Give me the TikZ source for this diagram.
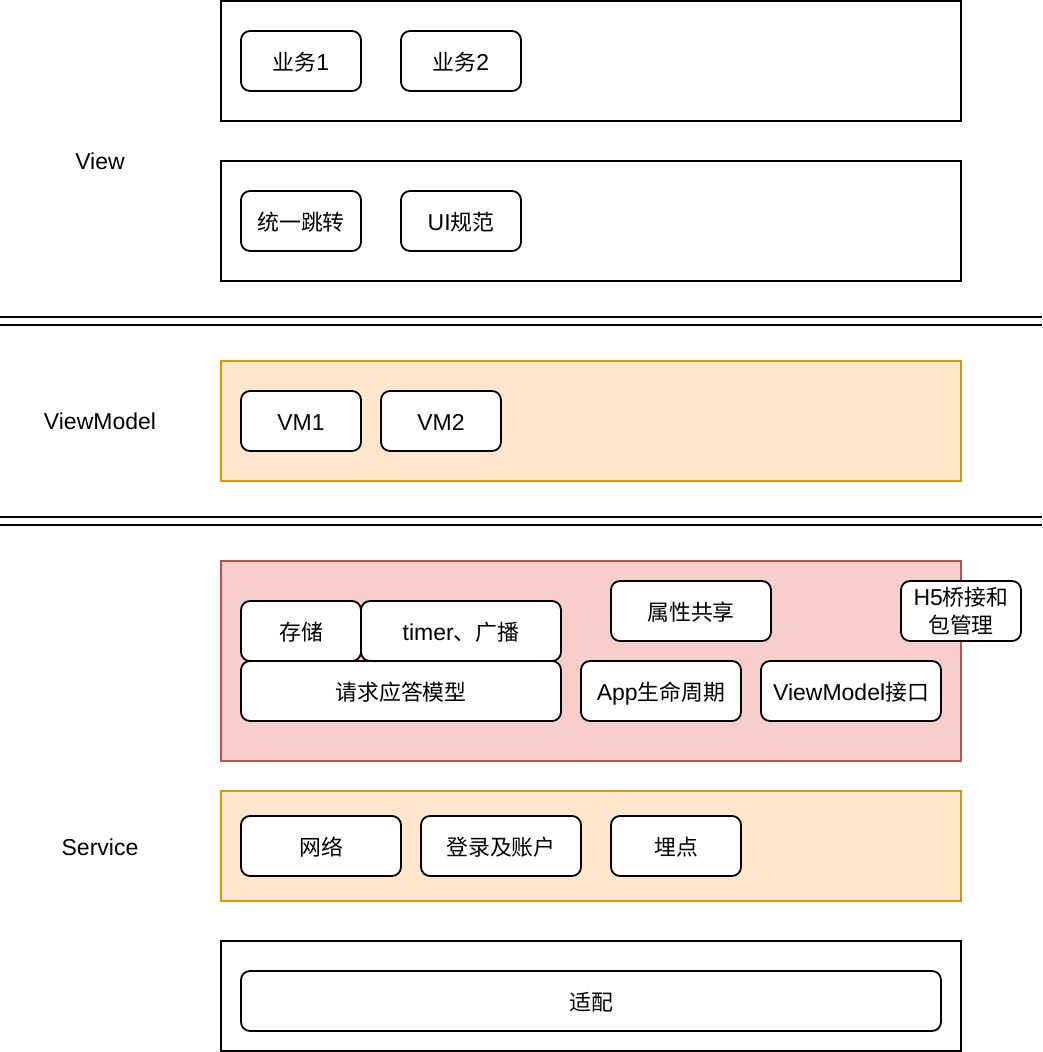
\documentclass[tikz,border=0pt]{standalone}
\usepackage{fontspec}
\setmainfont{Liberation Sans}
\newfontfamily\cjk[Scale=0.95]{Noto Sans CJK SC}
\usepackage{xcolor}
\usepackage{tikz}
\usetikzlibrary{positioning,calc}

\definecolor{vmfill}{HTML}{FFE6CC}
\definecolor{vmline}{HTML}{D79B00}
\definecolor{corefill}{HTML}{F8CECC}
\definecolor{coreline}{HTML}{B85450}

\begin{document}
\begin{tikzpicture}[x=1pt, y=-1pt, font=\fontsize{23}{28}\selectfont,
    layer/.style={draw, line width=2pt, minimum width=740pt, inner sep=0pt},
    item/.style={draw, fill=white, line width=1.8pt, rounded corners=9pt, minimum height=60pt, inner sep=0pt, text depth=0pt, text height=18pt},
    sep/.style={double, double distance=6pt, line width=2pt}]
    \useasboundingbox (0,0) rectangle (1042,1052);

    % View
    \node[layer, minimum height=120pt] (viewtop) at (591,61) {};
    \node[item, minimum width=120pt] (biz1) at (301,61) {{\cjk 业务}1};
    \node[item, minimum width=120pt] (biz2) at (461,61) {{\cjk 业务}2};
    \node[layer, minimum height=120pt] (viewbot) at (591,221) {};
    \node[item, minimum width=120pt] (jump) at (301,221) {\cjk 统一跳转};
    \node[item, minimum width=120pt] (uispec) at (461,221) {UI{\cjk 规范}};
    \node (viewlbl) at (100,161) {View};

    % separators
    \coordinate (s1l) at (0,321);
    \coordinate (s1r) at (1042,321);
    \coordinate (s2l) at (0,521);
    \coordinate (s2r) at (1042,521);
    \draw[sep] (s1l) -- (s1r);
    \draw[sep] (s2l) -- (s2r);

    % ViewModel
    \node[layer, minimum height=120pt, fill=vmfill, draw=vmline] (vmbox) at (591,421) {};
    \node[item, minimum width=120pt] (vm1) at (301,421) {VM1};
    \node[item, minimum width=120pt] (vm2) at (441,421) {VM2};
    \node (vmlbl) at (100,421) {ViewModel};

    % Service core
    \node[layer, minimum height=200pt, fill=corefill, draw=coreline] (corebox) at (591,661) {};
    \node[item, minimum width=120pt] (store) at (301,631) {\cjk 存储};
    \node[item, minimum width=200pt] (timer) at (461,631) {timer{\cjk 、广播}};
    \node[item, minimum width=320pt] (reqresp) at (401,691) {\cjk 请求应答模型};
    \node[item, minimum width=160pt] (share) at (691,611) {\cjk 属性共享};
    \node[item, minimum width=160pt] (applife) at (661,691) {App{\cjk 生命周期}};
    \node[item, minimum width=180pt] (vmapi) at (851,691) {ViewModel{\cjk 接口}};
    \node[item, minimum width=120pt, align=center, text height=, text depth=] (hybrid) at (961,611) {H5{\cjk 桥接和}\\{\cjk 包管理}};

    % Service base
    \node[layer, minimum height=110pt, fill=vmfill, draw=vmline] (svcbox) at (591,846) {};
    \node[item, minimum width=160pt] (net) at (321,846) {\cjk 网络};
    \node[item, minimum width=160pt] (login) at (501,846) {\cjk 登录及账户};
    \node[item, minimum width=130pt] (track) at (676,846) {\cjk 埋点};
    \node (svclbl) at (100,847) {Service};

    % adapter
    \node[layer, minimum height=110pt] (adaptbox) at (591,996) {};
    \node[item, minimum width=700pt] (adapt) at (591,1001) {\cjk 适配};
\end{tikzpicture}
\end{document}
